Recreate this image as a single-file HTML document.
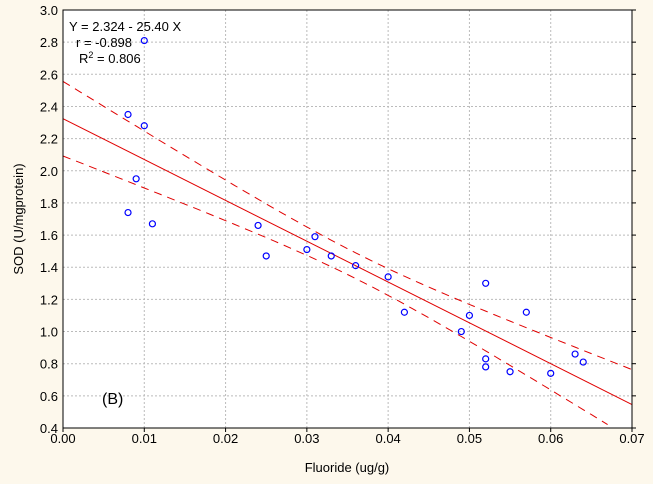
<!DOCTYPE html>
<html><head><meta charset="utf-8"><style>
html,body{margin:0;padding:0;background:#fdf8ec;}
svg{display:block;font-family:"Liberation Sans",Arial,sans-serif;}
</style></head><body>
<svg id="chart" width="653" height="484">
<rect x="0" y="0" width="653" height="484" fill="#fdf8ec"/>
<rect x="63" y="10" width="569" height="418" fill="#fff"/>
<g id="grid"></g><g id="bands"></g><g id="pts"></g>
<rect x="63" y="10" width="569" height="418" fill="none" stroke="#000" stroke-width="1"/>
<g id="axes"></g>
<text x="69" y="31" font-size="13">Y = 2.324 - 25.40 X</text>
<text x="76" y="47" font-size="13">r = -0.898</text>
<text x="79" y="63" font-size="13">R<tspan dy="-5" font-size="9">2</tspan><tspan dy="5"> = 0.806</tspan></text>
<text x="102" y="404" font-size="16">(B)</text>
<text x="347" y="472" font-size="13" text-anchor="middle">Fluoride (ug/g)</text>
<text transform="translate(23,219) rotate(-90)" font-size="13" text-anchor="middle">SOD (U/mgprotein)</text>
</svg>
<script>
const xData=[0.008,0.010,0.010,0.009,0.008,0.011,0.024,0.025,0.030,0.031,0.033,0.036,0.040,0.042,0.049,0.050,0.052,0.052,0.052,0.055,0.057,0.060,0.063,0.064];
const yData=[2.35,2.28,2.81,1.95,1.74,1.67,1.66,1.47,1.51,1.59,1.47,1.41,1.34,1.12,1.00,1.10,1.30,0.83,0.78,0.75,1.12,0.74,0.86,0.81];
const xTicks=[0,0.01,0.02,0.03,0.04,0.05,0.06,0.07];
const yTicks=[0.4,0.6,0.8,1.0,1.2,1.4,1.6,1.8,2.0,2.2,2.4,2.6,2.8,3.0];
const fitA=[2.324], fitB=[-25.40];
const NS='http://www.w3.org/2000/svg';
const X0=63,X1=632,Y0=428,Y1=10;
const sx=v=>X0+(v-0)/(0.07)*(X1-X0);
const sy=v=>Y0-(v-0.4)/(2.6)*(Y0-Y1);
function mk(t,a,p){const e=document.createElementNS(NS,t);for(const k in a)e.setAttribute(k,a[k]);p.appendChild(e);return e;}
const grid=document.getElementById('grid'),axes=document.getElementById('axes');
xTicks.forEach((t,i)=>{
  if(i>0&&i<xTicks.length-1){const l=mk('line',{x1:sx(t),x2:sx(t),y1:Y1,y2:Y0,stroke:'#bbb','stroke-dasharray':'2,2'},grid);
  }
  const tk=mk('line',{x1:sx(t),x2:sx(t),y1:Y0,y2:Y0+4,stroke:'#000'},axes);
  
  const tx=mk('text',{x:sx(t),y:Y0+15,'font-size':13,'text-anchor':'middle'},axes);tx.textContent=t.toFixed(2);
  
});
yTicks.forEach((t,i)=>{
  if(i>0&&i<yTicks.length-1){const l=mk('line',{x1:X0,x2:X1,y1:sy(t),y2:sy(t),stroke:'#bbb','stroke-dasharray':'2,2'},grid);
  }
  const tk=mk('line',{x1:X1,x2:X1+4,y1:sy(t),y2:sy(t),stroke:'#000'},axes);
  
  const tx=mk('text',{x:X0-5,y:sy(t)+5,'font-size':13,'text-anchor':'end'},axes);tx.textContent=t.toFixed(1);
  
});
const bands=document.getElementById('bands');
const f=x=>fitA[0]+fitB[0]*x;
const fl=mk('line',{x1:sx(0),y1:sy(f(0)),x2:sx(0.07),y2:sy(f(0.07)),stroke:'#e00000','stroke-width':1},bands);

const n=xData.length,xm=xData.reduce((a,b)=>a+b,0)/n;
const hw=x=>Math.sqrt(0.0064+36*(x-xm)*(x-xm));
[1,-1].forEach(s=>{
  let d='';for(let i=0;i<=70;i++){const x=i*0.001;let y=f(x)+s*hw(x);if(y<0.4)break;d+=(i?'L':'M')+sx(x).toFixed(1)+','+sy(y).toFixed(1);}
  const p=mk('path',{d:d,fill:'none',stroke:'#e00000','stroke-dasharray':'8,6'},bands);
  
});
const pts=document.getElementById('pts');
xData.forEach((x,i)=>{const c=mk('circle',{cx:sx(x),cy:sy(yData[i]),r:3,fill:'none',stroke:'#0000ff','stroke-width':1.2},pts);
});
</script>
</body></html>
